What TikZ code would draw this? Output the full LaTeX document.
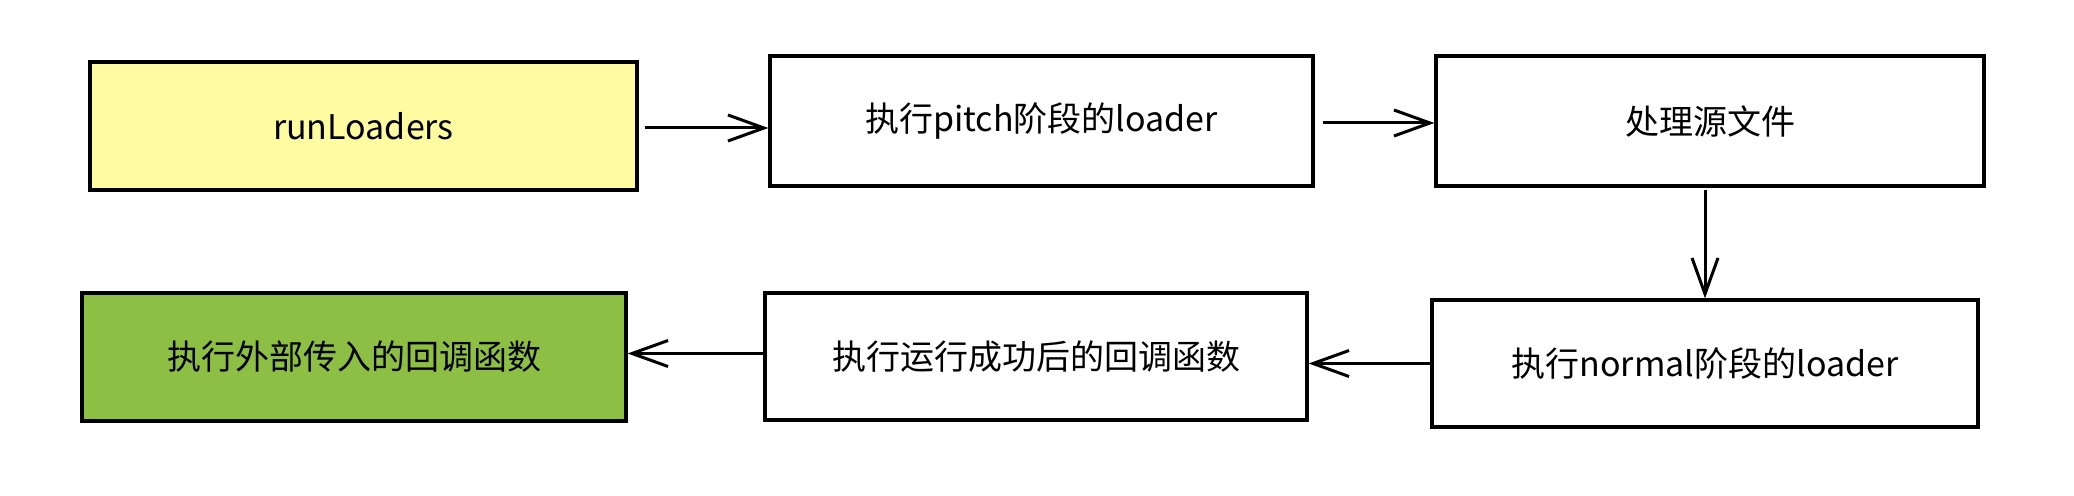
\documentclass[tikz,border=0pt]{standalone}
\usepackage{fontspec}
\setmainfont{Noto Sans CJK SC}
\usetikzlibrary{arrows.meta}
\definecolor{paleyellow}{HTML}{FFFBA0}
\definecolor{leafgreen}{HTML}{8DBF44}
\begin{document}
\begin{tikzpicture}[x=0.5pt,y=-0.5pt,
  box/.style={draw=black, line width=1.6pt, minimum width=#1, minimum height=64pt, inner sep=0pt,
    font=\fontsize{17pt}{20pt}\selectfont, anchor=center},
  box/.default=272pt,
  conn/.style={draw=black, line width=1.5pt, -{Straight Barb[length=18pt,width=13pt,line width=1.5pt]}}]
\useasboundingbox (0,0) rectangle (2074,496);
\node[box=273.5pt, fill=paleyellow, minimum height=64pt] (run) at (363.5,126) {runLoaders};
\node[box=271.5pt, fill=white, minimum height=65pt] (pitch) at (1041.5,121) {执行pitch阶段的loader};
\node[box=274pt, fill=white, minimum height=65pt] (src) at (1710,121) {处理源文件};
\node[box=273pt, fill=white, minimum height=63.5pt] (normal) at (1705,363.5) {执行normal阶段的loader};
\node[box=271pt, fill=white, minimum height=63.5pt] (succ) at (1036,356.5) {执行运行成功后的回调函数};
\node[box=272pt, fill=leafgreen, minimum height=64pt] (ext) at (354,357) {执行外部传入的回调函数};
\draw[conn] (run.east) ++(6,2) coordinate (a1) -- (a1 -| pitch.west);
\draw[conn] (pitch.east) ++(8,2) coordinate (a2) -- (a2 -| src.west);
\draw[conn] (src.south) ++(-5,2) coordinate (a3) -- (a3 |- normal.north);
\draw[conn] (normal.west) -- (normal.west -| succ.east);
\draw[conn] (succ.west) ++(0,-3) coordinate (a5) -- (a5 -| ext.east);
\end{tikzpicture}
\end{document}
